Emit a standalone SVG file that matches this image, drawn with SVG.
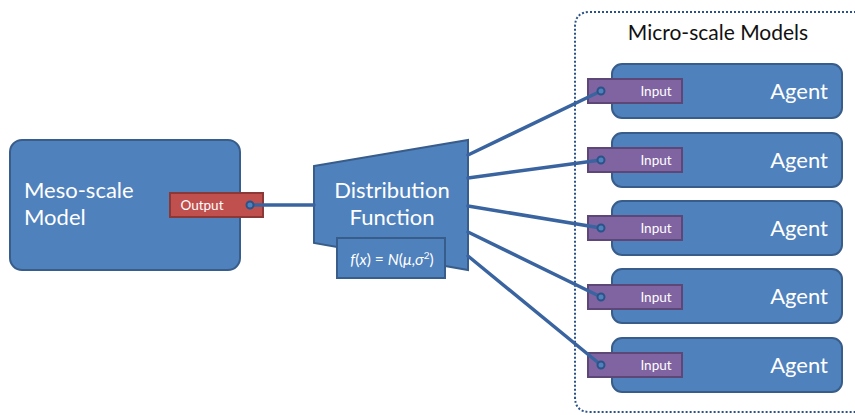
<svg xmlns="http://www.w3.org/2000/svg" width="855" height="415" viewBox="0 0 855 415">
<style>
.box{fill:#4F81BD;stroke:#385D8A;stroke-width:2}
.out{fill:#C0504D;stroke:#8C3836;stroke-width:2}
.inp{fill:#8064A2;stroke:#5C4776;stroke-width:2}
.port{fill:#4F81BD;stroke:#2C5388;stroke-width:2}
.conn{stroke:#3A64A0;stroke-width:3.5;fill:none;stroke-linecap:round}
.t{font-family:Lato,"Open Sans","Liberation Sans",sans-serif;fill:#FFFFFF}
.big{font-size:22px}
.sm{font-size:13.5px}
</style>
<rect width="855" height="415" fill="#FFFFFF"/>
<g id="container">
<path d="M 860 12 L 590 12 Q 575 12 575 27 L 575 397 Q 575 412 590 412 L 860 412" fill="none" stroke="#2C5388" stroke-width="2" stroke-dasharray="2,2"/>
<text x="718" y="40" text-anchor="middle" font-family="Lato,'Open Sans','Liberation Sans',sans-serif" font-size="21" fill="#111111">Micro-scale Models</text>
</g>
<g id="meso">
<rect class="box" x="10" y="140" width="230" height="130" rx="12"/>
<text class="t big" x="24" y="198">Meso-scale</text>
<text class="t big" x="24" y="225">Model</text>
<rect class="out" x="170" y="193" width="93" height="24"/>
<text class="t sm" x="202" y="210" text-anchor="middle">Output</text>
</g>
<g id="distribution">
<path class="box" d="M 314 166 L 468 140 L 468 270 L 314 243 Z"/>
<text class="t big" x="392" y="198" text-anchor="middle">Distribution</text>
<text class="t big" x="392" y="225" text-anchor="middle">Function</text>
<rect class="box" x="337" y="238" width="108" height="40"/>
<text class="t" x="392" y="265" text-anchor="middle" font-size="15.5"><tspan font-style="italic">f</tspan>(<tspan font-style="italic">x</tspan>) = <tspan font-style="italic">N</tspan>(<tspan font-style="italic">μ</tspan>,<tspan font-style="italic">σ</tspan><tspan font-size="10" dy="-6">2</tspan><tspan dy="6">)</tspan></text>
</g>
<g id="agent1">
<rect class="box" x="612" y="64" width="230" height="54" rx="10"/>
<text class="t big" x="828" y="99" text-anchor="end">Agent</text>
<rect class="inp" x="588" y="79" width="94" height="24"/>
<text class="t sm" x="656" y="96" text-anchor="middle">Input</text>
</g>
<g id="agent2">
<rect class="box" x="612" y="133" width="230" height="54" rx="10"/>
<text class="t big" x="828" y="168" text-anchor="end">Agent</text>
<rect class="inp" x="588" y="148" width="94" height="24"/>
<text class="t sm" x="656" y="165" text-anchor="middle">Input</text>
</g>
<g id="agent3">
<rect class="box" x="612" y="201" width="230" height="54" rx="10"/>
<text class="t big" x="828" y="236" text-anchor="end">Agent</text>
<rect class="inp" x="588" y="216" width="94" height="24"/>
<text class="t sm" x="656" y="233" text-anchor="middle">Input</text>
</g>
<g id="agent4">
<rect class="box" x="612" y="269" width="230" height="54" rx="10"/>
<text class="t big" x="828" y="304" text-anchor="end">Agent</text>
<rect class="inp" x="588" y="285" width="94" height="24"/>
<text class="t sm" x="656" y="302" text-anchor="middle">Input</text>
</g>
<g id="agent5">
<rect class="box" x="612" y="338" width="230" height="54" rx="10"/>
<text class="t big" x="828" y="373" text-anchor="end">Agent</text>
<rect class="inp" x="588" y="353" width="94" height="24"/>
<text class="t sm" x="656" y="370" text-anchor="middle">Input</text>
</g>
<g id="connectors">
<line class="conn" x1="250" y1="205" x2="314" y2="205"/>
<line class="conn" x1="468" y1="155" x2="601" y2="91"/>
<line class="conn" x1="468" y1="178" x2="601" y2="160"/>
<line class="conn" x1="468" y1="206" x2="601" y2="228"/>
<line class="conn" x1="468" y1="232" x2="601" y2="297"/>
<line class="conn" x1="468" y1="256" x2="601" y2="365"/>
<circle class="port" cx="250" cy="205" r="3.5"/>
<circle class="port" cx="601" cy="91" r="3.5"/>
<circle class="port" cx="601" cy="160" r="3.5"/>
<circle class="port" cx="601" cy="228" r="3.5"/>
<circle class="port" cx="601" cy="297" r="3.5"/>
<circle class="port" cx="601" cy="365" r="3.5"/>
</g>
</svg>
